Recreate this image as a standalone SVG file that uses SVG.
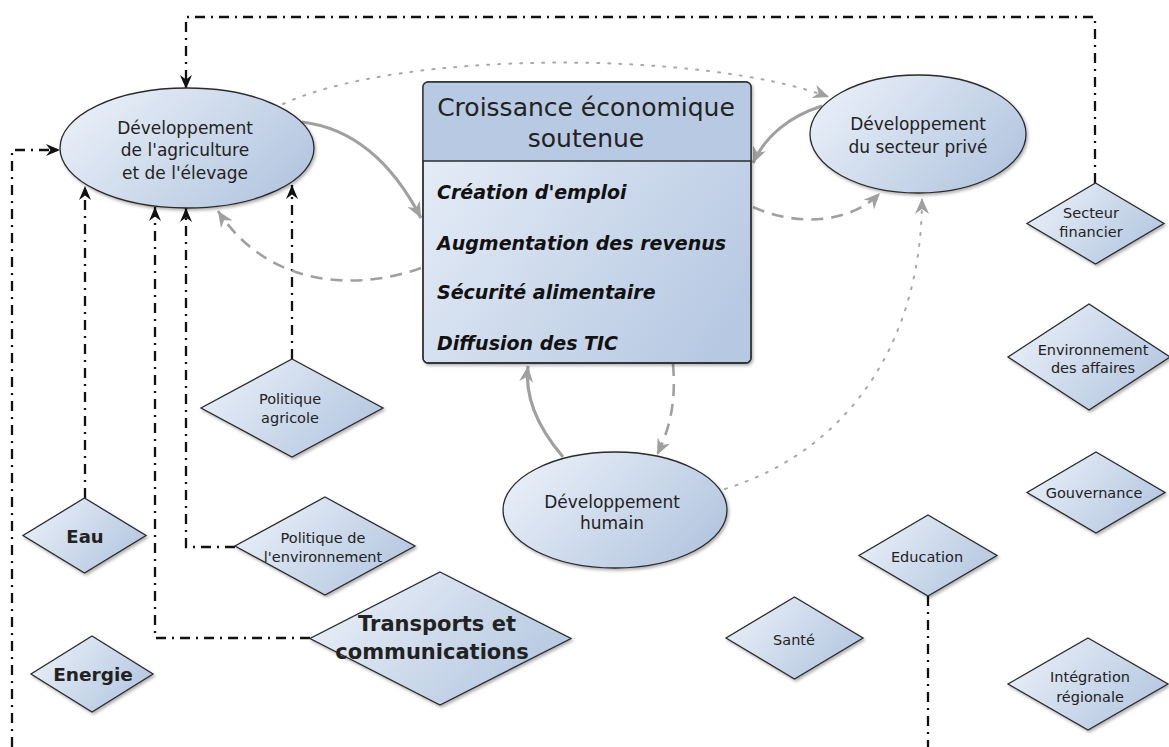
<svg xmlns="http://www.w3.org/2000/svg" width="1169" height="747" viewBox="0 0 1169 747">
  <defs>
    <linearGradient id="nodeFill" x1="0" y1="0.25" x2="1" y2="0.75">
      <stop offset="0" stop-color="#e9eff8"/>
      <stop offset="1" stop-color="#b2c5df"/>
    </linearGradient>
    <linearGradient id="bodyFill" x1="0" y1="0.2" x2="1" y2="0.8">
      <stop offset="0" stop-color="#e6edf7"/>
      <stop offset="1" stop-color="#b6c8e2"/>
    </linearGradient>
    <filter id="shadow" x="-10%" y="-10%" width="125%" height="130%">
      <feDropShadow dx="1.5" dy="2" stdDeviation="1.5" flood-color="#000" flood-opacity="0.3"/>
    </filter>
    <marker id="arrowBlack" viewBox="0 0 14 12" refX="14" refY="6" markerWidth="14" markerHeight="12" markerUnits="userSpaceOnUse" orient="auto">
      <path d="M0,0 L14,6 L0,12 L4.5,6 z" fill="#111"/>
    </marker>
    <marker id="arrowGrey" viewBox="0 0 16 14" refX="16" refY="7" markerWidth="16" markerHeight="14" markerUnits="userSpaceOnUse" orient="auto">
      <path d="M0,0 L16,7 L0,14 L5,7 z" fill="#a0a0a0"/>
    </marker>
    <style>
      .shape { fill: url(#nodeFill); stroke: #2b2b2b; stroke-width: 1.3; filter: url(#shadow); }
      .label { font-family: "DejaVu Sans", "Liberation Sans", sans-serif; fill: #222; text-anchor: middle; }
      .l17 { font-size: 17px; }
      .l15 { font-size: 14.5px; }
      .bold { font-weight: bold; }
      .item { font-family: "DejaVu Sans", "Liberation Sans", sans-serif; font-size: 19px; font-weight: bold; font-style: italic; fill: #111; }
      .link { fill: none; stroke: #111; stroke-width: 2.3; stroke-dasharray: 10 6 2 6; }
      .solid { fill: none; stroke: #a0a0a0; stroke-width: 3.2; }
      .dashed { fill: none; stroke: #a0a0a0; stroke-width: 2.6; stroke-dasharray: 12 8; }
      .dotted { fill: none; stroke: #a8a8a8; stroke-width: 2; stroke-dasharray: 2 9; stroke-linecap: round; }
    </style>
  </defs>

  <rect width="1169" height="747" fill="#ffffff"/>

  <!-- connectors -->
  <g id="connectors">
    <!-- dash-dot influence lines -->
    <path class="link" d="M1095,183 V17 H186 V89" marker-end="url(#arrowBlack)"/>
    <path class="link" d="M12,747 V150 H60" marker-end="url(#arrowBlack)"/>
    <path class="link" d="M85,498 V186" marker-end="url(#arrowBlack)"/>
    <path class="link" d="M310,638 H155 V207" marker-end="url(#arrowBlack)"/>
    <path class="link" d="M235,547 H186 V208" marker-end="url(#arrowBlack)"/>
    <path class="link" d="M292,359 V185" marker-end="url(#arrowBlack)"/>
    <path class="link" d="M928,596 V747"/>

    <!-- grey relations between poles -->
    <path class="solid" d="M302,122 C352,128 392,162 421,218" marker-end="url(#arrowGrey)"/>
    <path class="dashed" d="M421,268 C360,290 270,290 218,211" marker-end="url(#arrowGrey)"/>
    <path class="dotted" d="M283,104 C400,50 700,50 829,97" marker-end="url(#arrowGrey)"/>
    <path class="solid" d="M822,106 C790,116 765,136 753,163" marker-end="url(#arrowGrey)"/>
    <path class="dashed" d="M753,207 C800,228 852,222 880,193" marker-end="url(#arrowGrey)"/>
    <path class="dotted" d="M725,489 C850,450 922,340 922,198" marker-end="url(#arrowGrey)"/>
    <path class="solid" d="M563,457 C540,430 524,400 528,366" marker-end="url(#arrowGrey)"/>
    <path class="dashed" d="M673,364 C676,400 671,426 657,455" marker-end="url(#arrowGrey)"/>
  </g>

  <!-- central pole -->
  <g id="croissance">
    <rect x="423" y="82" width="328" height="281" rx="5" fill="url(#bodyFill)" stroke="#2b2b2b" stroke-width="1.3" filter="url(#shadow)"/>
    <path d="M423,161 V87 Q423,82 428,82 H746 Q751,82 751,87 V161 Z" fill="#b8cae3"/>
    <line x1="423" y1="161" x2="751" y2="161" stroke="#2b2b2b" stroke-width="1.3"/>
    <rect x="423" y="82" width="328" height="281" rx="5" fill="none" stroke="#2b2b2b" stroke-width="1.3"/>
    <text class="label" x="586" y="116" font-size="25">Croissance économique</text>
    <text class="label" x="586" y="147" font-size="25">soutenue</text>
    <text class="item" x="437" y="199">Création d'emploi</text>
    <text class="item" x="437" y="250">Augmentation des revenus</text>
    <text class="item" x="437" y="299">Sécurité alimentaire</text>
    <text class="item" x="437" y="350">Diffusion des TIC</text>
  </g>

  <!-- ellipse poles -->
  <g id="agriculture">
    <ellipse class="shape" cx="187" cy="148" rx="127" ry="60"/>
    <text class="label l17" x="185" y="134">Développement</text>
    <text class="label l17" x="185" y="156">de l'agriculture</text>
    <text class="label l17" x="185" y="179">et de l'élevage</text>
  </g>
  <g id="secteur-prive">
    <ellipse class="shape" cx="918" cy="134" rx="108" ry="59"/>
    <text class="label l17" x="918" y="130">Développement</text>
    <text class="label l17" x="918" y="153">du secteur privé</text>
  </g>
  <g id="humain">
    <ellipse class="shape" cx="615" cy="510" rx="112" ry="58"/>
    <text class="label l17" x="612" y="508">Développement</text>
    <text class="label l17" x="612" y="529">humain</text>
  </g>

  <!-- sector diamonds -->
  <g id="secteur-financier">
    <polygon class="shape" points="1095.5,183 1164,223.5 1095.5,264 1027,223.5"/>
    <text class="label l15" x="1091" y="218">Secteur</text>
    <text class="label l15" x="1091" y="237">financier</text>
  </g>
  <g id="environnement-affaires">
    <polygon class="shape" points="1089,304 1170,357 1089,410 1008,357"/>
    <text class="label l15" x="1093" y="355">Environnement</text>
    <text class="label l15" x="1093" y="373">des affaires</text>
  </g>
  <g id="gouvernance">
    <polygon class="shape" points="1096,452 1165,492.5 1096,533 1027,492.5"/>
    <text class="label l15" x="1094" y="498">Gouvernance</text>
  </g>
  <g id="integration">
    <polygon class="shape" points="1088,638 1168,684 1088,730 1008,684"/>
    <text class="label l15" x="1090" y="682">Intégration</text>
    <text class="label l15" x="1090" y="702">régionale</text>
  </g>
  <g id="education">
    <polygon class="shape" points="928,515 997,555.5 928,596 859,555.5"/>
    <text class="label l15" x="927" y="562">Education</text>
  </g>
  <g id="sante">
    <polygon class="shape" points="794.5,597 863,638 794.5,679 726,638"/>
    <text class="label l15" x="794" y="645">Santé</text>
  </g>
  <g id="politique-agricole">
    <polygon class="shape" points="292,359 383,408 292,457 201,408"/>
    <text class="label l15" x="290" y="404">Politique</text>
    <text class="label l15" x="290" y="423">agricole</text>
  </g>
  <g id="politique-environnement">
    <polygon class="shape" points="325,497 415,546 325,595 235,546"/>
    <text class="label l15" x="323" y="543">Politique de</text>
    <text class="label l15" x="323" y="562">l'environnement</text>
  </g>
  <g id="eau">
    <polygon class="shape" points="84.5,498 146,535.5 84.5,573 23,535.5"/>
    <text class="label bold" x="85" y="543" font-size="18">Eau</text>
  </g>
  <g id="energie">
    <polygon class="shape" points="92,636 153,674 92,712 31,674"/>
    <text class="label bold" x="93" y="681" font-size="18.5">Energie</text>
  </g>
  <g id="transports">
    <polygon class="shape" points="440,572 571,638.5 440,705 310,638.5"/>
    <text class="label bold" x="437" y="631" font-size="21">Transports et</text>
    <text class="label bold" x="432" y="659" font-size="21">communications</text>
  </g>
</svg>
